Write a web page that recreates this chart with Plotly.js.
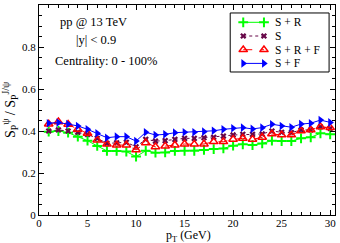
<!DOCTYPE html>
<html><head><meta charset="utf-8">
<script src="https://cdn.plot.ly/plotly-3.0.1.min.js"></script>
<style>html,body{margin:0;padding:0;background:#fff}#c{width:340px;height:243px}</style>
</head><body><div id="c"></div>
<script>
const pt = [1,2,3,4,5,6,7,8,9,10,11,12,13,14,15,16,17,18,19,20,21,22,23,24,25,26,27,28,29,30];
const sR = [0.397,0.400,0.392,0.373,0.354,0.329,0.305,0.305,0.302,0.278,0.306,0.297,0.298,0.305,0.306,0.306,0.310,0.314,0.317,0.330,0.337,0.333,0.341,0.354,0.352,0.352,0.365,0.370,0.389,0.384];
const sOnly = [0.400,0.405,0.400,0.394,0.384,0.365,0.341,0.344,0.346,0.325,0.360,0.352,0.354,0.360,0.365,0.365,0.368,0.370,0.376,0.381,0.384,0.384,0.386,0.400,0.394,0.392,0.405,0.405,0.420,0.413];
const sRF = [0.433,0.444,0.432,0.408,0.389,0.357,0.337,0.333,0.333,0.310,0.344,0.325,0.328,0.333,0.338,0.337,0.338,0.349,0.349,0.360,0.365,0.360,0.370,0.386,0.381,0.381,0.401,0.405,0.420,0.416];
const sF = [0.437,0.440,0.433,0.424,0.408,0.389,0.368,0.373,0.373,0.352,0.394,0.381,0.384,0.392,0.394,0.394,0.397,0.401,0.408,0.413,0.416,0.410,0.416,0.432,0.424,0.418,0.433,0.437,0.452,0.441];
const names = ["S + R","S","S + R + F","S + F"];
const yTicks = [0,0.2,0.4,0.6,0.8,1];
const yTickText = ["0","0.2","0.4","0.6","0.8","1"];
const FAM = "Liberation Serif, Times New Roman, serif";
const font = {family:FAM, size:12.5, color:"#000"};
const tickFont = {family:FAM, size:11, color:"#000"};

const styles = [
 {line:{color:"#00ff00",width:1},marker:{symbol:"cross-thin-open",size:7,color:"#00ff00",line:{color:"#00ff00",width:2}}},
 {line:{color:"#670748",width:1,dash:"dot"},marker:{symbol:"x",size:5.5,color:"#670748"}},
 {line:{color:"#ff0000",width:1,dash:"dash"},marker:{symbol:"triangle-up-open",size:7.5,color:"#ff0000",line:{color:"#ff0000",width:1.5}}},
 {line:{color:"#0000ff",width:1},marker:{symbol:"triangle-right",size:7.5,color:"#0000ff"}}
];
const series = [sR,sOnly,sRF,sF];
const traces = series.map((ys,i)=>Object.assign({x:pt,y:ys,name:names[i],mode:"lines+markers",showlegend:false},styles[i]));

// legend key (on a hidden 0..1 overlay axis)
const legY = [0.9176,0.8524,0.7871,0.7219];
const annotations = [
  {text:"pp @ 13 TeV",x:0.185,y:0.919,xref:"paper",yref:"paper",showarrow:false,font:font,xanchor:"center",yanchor:"middle"},
  {text:"|y| < 0.9",x:0.192,y:0.833,xref:"paper",yref:"paper",showarrow:false,font:font,xanchor:"center",yanchor:"middle"},
  {text:"Centrality: 0 - 100%",x:0.226,y:0.733,xref:"paper",yref:"paper",showarrow:false,font:font,xanchor:"center",yanchor:"middle"},
  {text:"p<sub>T</sub> (GeV)",x:0.505,y:-0.102,xref:"paper",yref:"paper",showarrow:false,font:{family:FAM,size:12,color:"#000"},xanchor:"center",yanchor:"middle",borderpad:0}
];
names.forEach((n,i)=>{
  traces.push(Object.assign({x:[0.69,0.76],y:[legY[i],legY[i]],xaxis:"x2",yaxis:"y2",mode:"lines+markers",showlegend:false,hoverinfo:"skip"},styles[i]));
  annotations.push({text:n,x:0.79,y:legY[i],xref:"paper",yref:"paper",showarrow:false,font:{family:FAM,size:11.5,color:"#000"},xanchor:"left",yanchor:"middle"});
});

const ax = {showgrid:false,zeroline:false,showline:true,linecolor:"#000",linewidth:1,mirror:"allticks",ticks:"inside",ticklen:5,tickcolor:"#000",tickfont:tickFont,automargin:false};
const layout = {
 width:340,height:243,margin:{l:38.5,r:5,t:5,b:28},paper_bgcolor:"#fff",plot_bgcolor:"#fff",
 font:font,showlegend:false,
 xaxis:Object.assign({},ax,{range:[0,30.5],dtick:5,tick0:0,ticklabelstandoff:-2,minor:{dtick:1,ticks:"inside",ticklen:3,tickcolor:"#000"}}),
 yaxis:Object.assign({},ax,{range:[0,1],tickmode:"array",tickvals:yTicks,ticktext:yTickText,minor:{dtick:0.05,tick0:0,ticks:"inside",ticklen:3,tickcolor:"#000"},
   title:{text:"S<sub>P</sub><sup>ψ</sup> / S<sub>P</sub><sup>J/ψ</sup>",font:{family:FAM,size:14,color:"#000"},standoff:6}}),
 xaxis2:{overlaying:"x",range:[0,1],visible:false,fixedrange:true},
 yaxis2:{overlaying:"y",range:[0,1],visible:false,fixedrange:true},
 shapes:[{type:"rect",xref:"paper",yref:"paper",x0:0.646,x1:0.98,y0:0.681,y1:0.962,line:{color:"#000",width:1},fillcolor:"rgba(0,0,0,0)",layer:"below"}],
 annotations:annotations
};
Plotly.newPlot("c",traces,layout,{displayModeBar:false,staticPlot:true});
</script></body></html>
